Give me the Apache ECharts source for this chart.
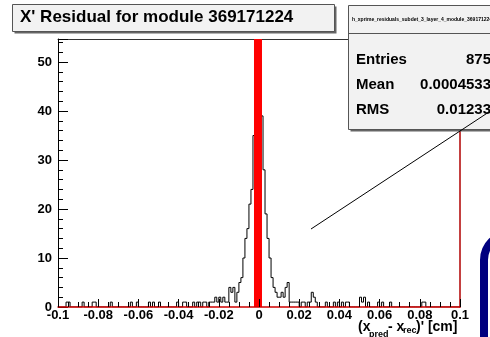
<!DOCTYPE html>
<html><head><meta charset="utf-8">
<script src="https://cdn.jsdelivr.net/npm/echarts@6/dist/echarts.min.js"></script>
<style>html,body{margin:0;padding:0;background:#fff}#c{width:490px;height:337px}</style>
</head><body><div id="c"></div>
<script>
// ---- data ----
const titleText = "X' Residual for module 369171224";
const histName = "h_xprime_residuals_subdet_3_layer_4_module_369171224";
const statNames = ["Entries", "Mean", "RMS"];
const statValues = ["875", "0.0004533", "0.01233"];
const binLow = -0.1;
const binWidth = 0.001;
const counts = [
  0,0,0,0,1,1,0,0,0,0,
  0,0,1,0,0,0,0,1,1,0,
  0,0,0,0,0,0,1,0,0,0,
  0,0,0,0,0,0,1,0,0,1,
  0,0,0,0,0,1,0,1,0,0,
  1,0,0,0,0,0,0,0,0,1,
  0,0,1,1,0,0,0,1,0,1,
  1,0,1,1,0,1,1,1,2,1,
  2,1,2,1,1,4,3,4,1,3,
  5,6,10,14,16,21,24,35,46,52,
  50,39,28,19,14,10,6,4,3,2,
  2,3,2,4,5,1,1,1,1,1,
  0,1,1,0,1,1,3,2,1,0,
  0,0,0,1,0,0,0,1,0,1,
  0,1,0,1,1,0,0,0,0,0,
  2,1,2,0,1,0,0,0,0,1,
  0,1,0,0,0,1,0,0,0,0,
  0,0,0,0,0,0,0,0,0,0,
  0,1,1,0,0,0,0,0,0,0,
  0,0,0,0,0,0,0,0,0,0
];
const xMin = -0.1, xMax = 0.1, xStep = 0.02;
const yMin = 0, yMax = 54.7, yStep = 10;
const redLineX = -0.0005;

// ---- build ----
const pts = counts.map((c, i) => [binLow + i * binWidth, c]);
pts.push([binLow + counts.length * binWidth, counts[counts.length - 1]]);

const FONT = "'Liberation Sans', Arial, sans-serif";
const chart = echarts.init(document.getElementById('c'), null, {renderer: 'canvas'});
const fmtX = v => { const r = Math.round(v * 100) / 100; return r === 0 ? '0' : String(r); };

const statGraphics = [];
statNames.forEach((n, k) => {
  statGraphics.push({type: 'text', left: 356, top: 52 + k * 25, z: 20,
    style: {text: n, font: 'bold 15px ' + FONT, fill: '#000'}});
  statGraphics.push({type: 'text', right: -1, top: 52 + k * 25, z: 20,
    style: {text: statValues[k], font: 'bold 15px ' + FONT, fill: '#000', textAlign: 'right'}});
});

chart.setOption({
  animation: false,
  backgroundColor: '#fff',
  grid: {left: 58, right: 30, top: 39, bottom: 30, show: false},
  xAxis: [{
    type: 'value', min: xMin, max: xMax, interval: xStep, z: 6,
    axisLine: {show: true, onZero: false, lineStyle: {color: '#d00000', width: 1.5}},
    axisTick: {show: true, inside: true, length: 8, lineStyle: {color: '#000'}},
    minorTick: {show: true, splitNumber: 4, length: 5, lineStyle: {color: '#000'}},
    splitLine: {show: false},
    axisLabel: {formatter: fmtX, color: '#000', fontFamily: FONT, fontWeight: 'bold', fontSize: 13, margin: 2}
  }, {
    type: 'value', position: 'top', min: xMin, max: xMax,
    axisLine: {show: true, onZero: false, lineStyle: {color: '#333', width: 1}},
    axisTick: {show: false}, axisLabel: {show: false}, splitLine: {show: false}
  }],
  yAxis: [{
    type: 'value', min: yMin, max: yMax, interval: yStep,
    axisLine: {show: true, onZero: false, lineStyle: {color: '#000', width: 1}},
    axisTick: {show: true, inside: true, length: 10, lineStyle: {color: '#000'}},
    minorTick: {show: true, splitNumber: 5, length: 5, lineStyle: {color: '#000'}},
    splitLine: {show: false},
    axisLabel: {formatter: v => (Math.abs(v % 10) < 1e-9 ? String(v) : ''), color: '#000',
      fontFamily: FONT, fontWeight: 'bold', fontSize: 13, margin: 6}
  }, {
    type: 'value', position: 'right', min: yMin, max: yMax,
    axisLine: {show: true, onZero: false, lineStyle: {color: '#b00000', width: 1.5}},
    axisTick: {show: false}, axisLabel: {show: false}, splitLine: {show: false}
  }],
  series: [{
    type: 'line', step: 'end', data: pts, showSymbol: false, symbol: 'none',
    lineStyle: {color: '#000', width: 1}, z: 2
  }, {
    type: 'line', data: [[redLineX, yMin], [redLineX, yMax]], showSymbol: false, symbol: 'none',
    lineStyle: {color: '#ff0000', width: 8, cap: 'butt'}, z: 5, silent: true
  }],
  graphic: [
    // title pave
    {type: 'rect', shape: {x: 14.5, y: 6.5, width: 322, height: 27}, style: {fill: '#666'}, z: 10},
    {type: 'rect', shape: {x: 12.5, y: 4.5, width: 322, height: 27}, style: {fill: '#f2f2f2', stroke: '#555', lineWidth: 1}, z: 11},
    {type: 'text', left: 20, top: 9, z: 12, style: {text: titleText, font: 'bold 17px ' + FONT, fill: '#000'}},
    // stats pave
    {type: 'rect', shape: {x: 350.5, y: 7.5, width: 160, height: 124}, style: {fill: '#666'}, z: 15},
    {type: 'rect', shape: {x: 348.5, y: 5.5, width: 160, height: 124}, style: {fill: '#f2f2f2', stroke: '#555', lineWidth: 1}, z: 16},
    {type: 'line', shape: {x1: 348.5, y1: 33.5, x2: 495, y2: 33.5}, style: {stroke: '#555', lineWidth: 1}, z: 17},
    {type: 'text', left: 352, top: 17, z: 18, style: {text: histName, font: 'bold 5px ' + FONT, fill: '#000'}},
    ...statGraphics,
    // diagonal line
    {type: 'line', shape: {x1: 311, y1: 229, x2: 495, y2: 108}, style: {stroke: '#000', lineWidth: 1}, z: 25},
    // blue rounded shape
    {type: 'rect', shape: {x: 484, y: 234, width: 80, height: 160, r: 26}, style: {fill: '#fff', stroke: '#00007f', lineWidth: 8}, z: 25},
    // x axis title
    {type: 'text', left: 358, top: 320, z: 26, style: {text: '(x', font: 'bold 14px ' + FONT, fill: '#000'}},
    {type: 'text', left: 369, top: 330, z: 26, style: {text: 'pred', font: 'bold 9px ' + FONT, fill: '#000'}},
    {type: 'text', left: 388, top: 320, z: 26, style: {text: '- x', font: 'bold 14px ' + FONT, fill: '#000'}},
    {type: 'text', left: 403, top: 326, z: 26, style: {text: 'rec', font: 'bold 9px ' + FONT, fill: '#000'}},
    {type: 'text', left: 416, top: 320, z: 26, style: {text: ")' [cm]", font: 'bold 14px ' + FONT, fill: '#000'}}
  ]
});
</script></body></html>
